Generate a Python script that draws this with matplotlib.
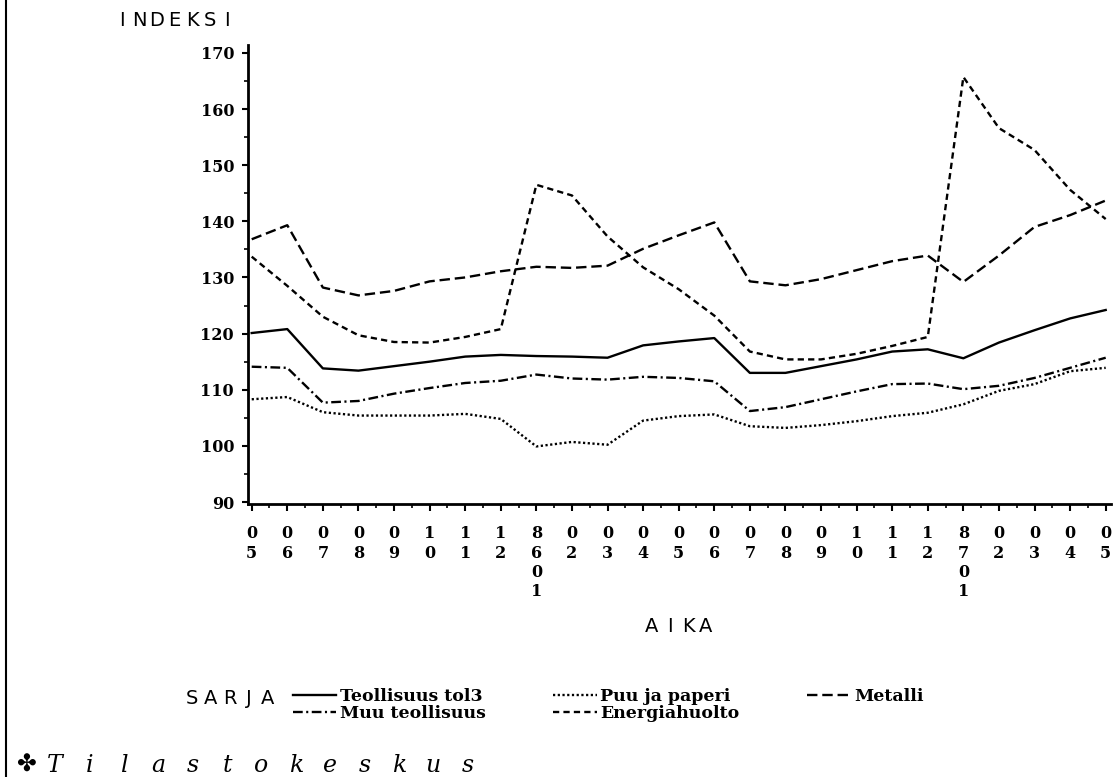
import matplotlib
matplotlib.use('Agg')
import matplotlib.pyplot as plt
from matplotlib.lines import Line2D
from matplotlib.ticker import MultipleLocator, FixedLocator

# ---------------- data ----------------
periods = ['05', '06', '07', '08', '09', '10', '11', '12', '8601', '02', '03', '04',
           '05', '06', '07', '08', '09', '10', '11', '12', '8701', '02', '03', '04', '05']

teollisuus = [120.1, 120.8, 113.8, 113.4, 114.2, 115.0, 115.9, 116.2, 116.0, 115.9, 115.7, 117.9,
              118.6, 119.2, 113.0, 113.0, 114.2, 115.4, 116.8, 117.2, 115.6, 118.4, 120.6, 122.7, 124.2]
puu_paperi = [108.3, 108.7, 106.0, 105.4, 105.4, 105.4, 105.7, 104.8, 99.9, 100.7, 100.2, 104.5,
              105.3, 105.6, 103.5, 103.2, 103.7, 104.4, 105.3, 105.9, 107.4, 109.8, 111.0, 113.3, 113.9]
metalli = [136.8, 139.3, 128.2, 126.8, 127.6, 129.3, 130.0, 131.1, 131.9, 131.7, 132.1, 135.1,
           137.5, 139.8, 129.3, 128.6, 129.7, 131.3, 132.9, 133.9, 129.2, 133.9, 139.0, 141.1, 143.7]
muu = [114.1, 113.9, 107.7, 108.0, 109.3, 110.3, 111.2, 111.6, 112.7, 112.0, 111.8, 112.3,
       112.1, 111.5, 106.2, 106.9, 108.3, 109.7, 111.0, 111.1, 110.1, 110.7, 112.1, 113.9, 115.7]
energia = [133.7, 128.5, 123.0, 119.7, 118.5, 118.4, 119.4, 120.8, 146.5, 144.6, 137.3, 131.8,
           127.9, 123.2, 116.8, 115.4, 115.4, 116.4, 117.8, 119.4, 165.7, 156.6, 152.7, 145.6, 140.4]

series_names = ['Teollisuus tol3', 'Puu ja paperi', 'Metalli', 'Muu teollisuus', 'Energiahuolto']
y_ticks = [90, 100, 110, 120, 130, 140, 150, 160, 170]

# ---------------- figure ----------------
plt.rcParams['lines.scale_dashes'] = False
W, H = 1116, 777
fig = plt.figure(figsize=(W / 100, H / 100), dpi=100)
fig.patch.set_facecolor('white')

left_px, right_px, top_px, bot_px = 248, 1111, 45, 503.7
ax = fig.add_axes([left_px / W, (H - bot_px) / H, (right_px - left_px) / W, (bot_px - top_px) / H])

x = list(range(len(periods)))
lw = 1.7
styles = {
    'Teollisuus tol3': dict(ls='-'),
    'Puu ja paperi': dict(ls=(0, (1.6, 1.8))),
    'Metalli': dict(ls=(0, (7.5, 3.5))),
    'Muu teollisuus': dict(ls=(0, (7, 2.5, 1.5, 2.5))),
    'Energiahuolto': dict(ls=(0, (4.5, 3))),
}
data = {'Teollisuus tol3': teollisuus, 'Puu ja paperi': puu_paperi, 'Metalli': metalli,
        'Muu teollisuus': muu, 'Energiahuolto': energia}

handles = {}
for name in series_names:
    h, = ax.plot(x, data[name], color='black', lw=lw, label=name, **styles[name])
    handles[name] = h

ax.set_xlim(-0.104, 24.149)
ax.set_ylim(89.7, 171.4)

for s in ['top', 'right']:
    ax.spines[s].set_visible(False)
for s in ['left', 'bottom']:
    ax.spines[s].set_linewidth(2.0)

serif_bold = dict(family='DejaVu Serif', weight='bold', size=11.5)

ax.yaxis.set_major_locator(FixedLocator(y_ticks))
ax.yaxis.set_minor_locator(MultipleLocator(5))
ax.set_yticklabels([str(v) for v in y_ticks], fontdict=serif_bold)
ax.xaxis.set_major_locator(FixedLocator(x))
ax.xaxis.set_minor_locator(MultipleLocator(0.5))
ax.set_xticklabels(['\n'.join(p) for p in periods], fontdict=serif_bold, linespacing=1.18)

ax.tick_params(axis='y', which='major', direction='out', length=4, width=1.5, pad=6)
ax.tick_params(axis='y', which='minor', direction='out', length=3, width=1.2)
ax.tick_params(axis='x', which='major', direction='out', length=5, width=1.5, pad=10.5)
ax.tick_params(axis='x', which='minor', direction='out', length=3, width=1.2)


def spaced(text, x0, yc, pitch, **kw):
    for i, ch in enumerate(text):
        fig.text((x0 + i * pitch) / W, 1 - yc / H, ch, ha='center', va='center', **kw)


sans = dict(family='DejaVu Sans', size=14, color='black')
spaced('INDEKSI', 122, 21, 17.5, **sans)
spaced('AIKA', 652, 627, 18, **sans)
spaced('SARJA', 192, 698, 19, **sans)

leg = fig.legend([handles[n] for n in ['Teollisuus tol3', 'Muu teollisuus', 'Puu ja paperi',
                                       'Energiahuolto', 'Metalli']],
                 ['Teollisuus tol3', 'Muu teollisuus', 'Puu ja paperi', 'Energiahuolto', 'Metalli'],
                 ncol=3, loc='upper left', bbox_to_anchor=(293 / W, 1 - 688 / H),
                 frameon=False, handlelength=2.5, handletextpad=0.2, columnspacing=3.9,
                 labelspacing=0.0, borderaxespad=0, borderpad=0,
                 prop=dict(family='DejaVu Serif', weight='bold', size=12.5))

# logo + footer text
fig.text(26 / W, 1 - 765 / H, '\u2724', ha='center', va='center', family='DejaVu Sans', size=17)
spaced('Tilastokeskus', 55, 765, 34.4, family='DejaVu Serif', style='italic', size=17)

# left border line
fig.add_artist(Line2D([6 / W, 6 / W], [0, 1], color='black', lw=1.5, transform=fig.transFigure))

fig.savefig('out.png', dpi=100, facecolor='white')
